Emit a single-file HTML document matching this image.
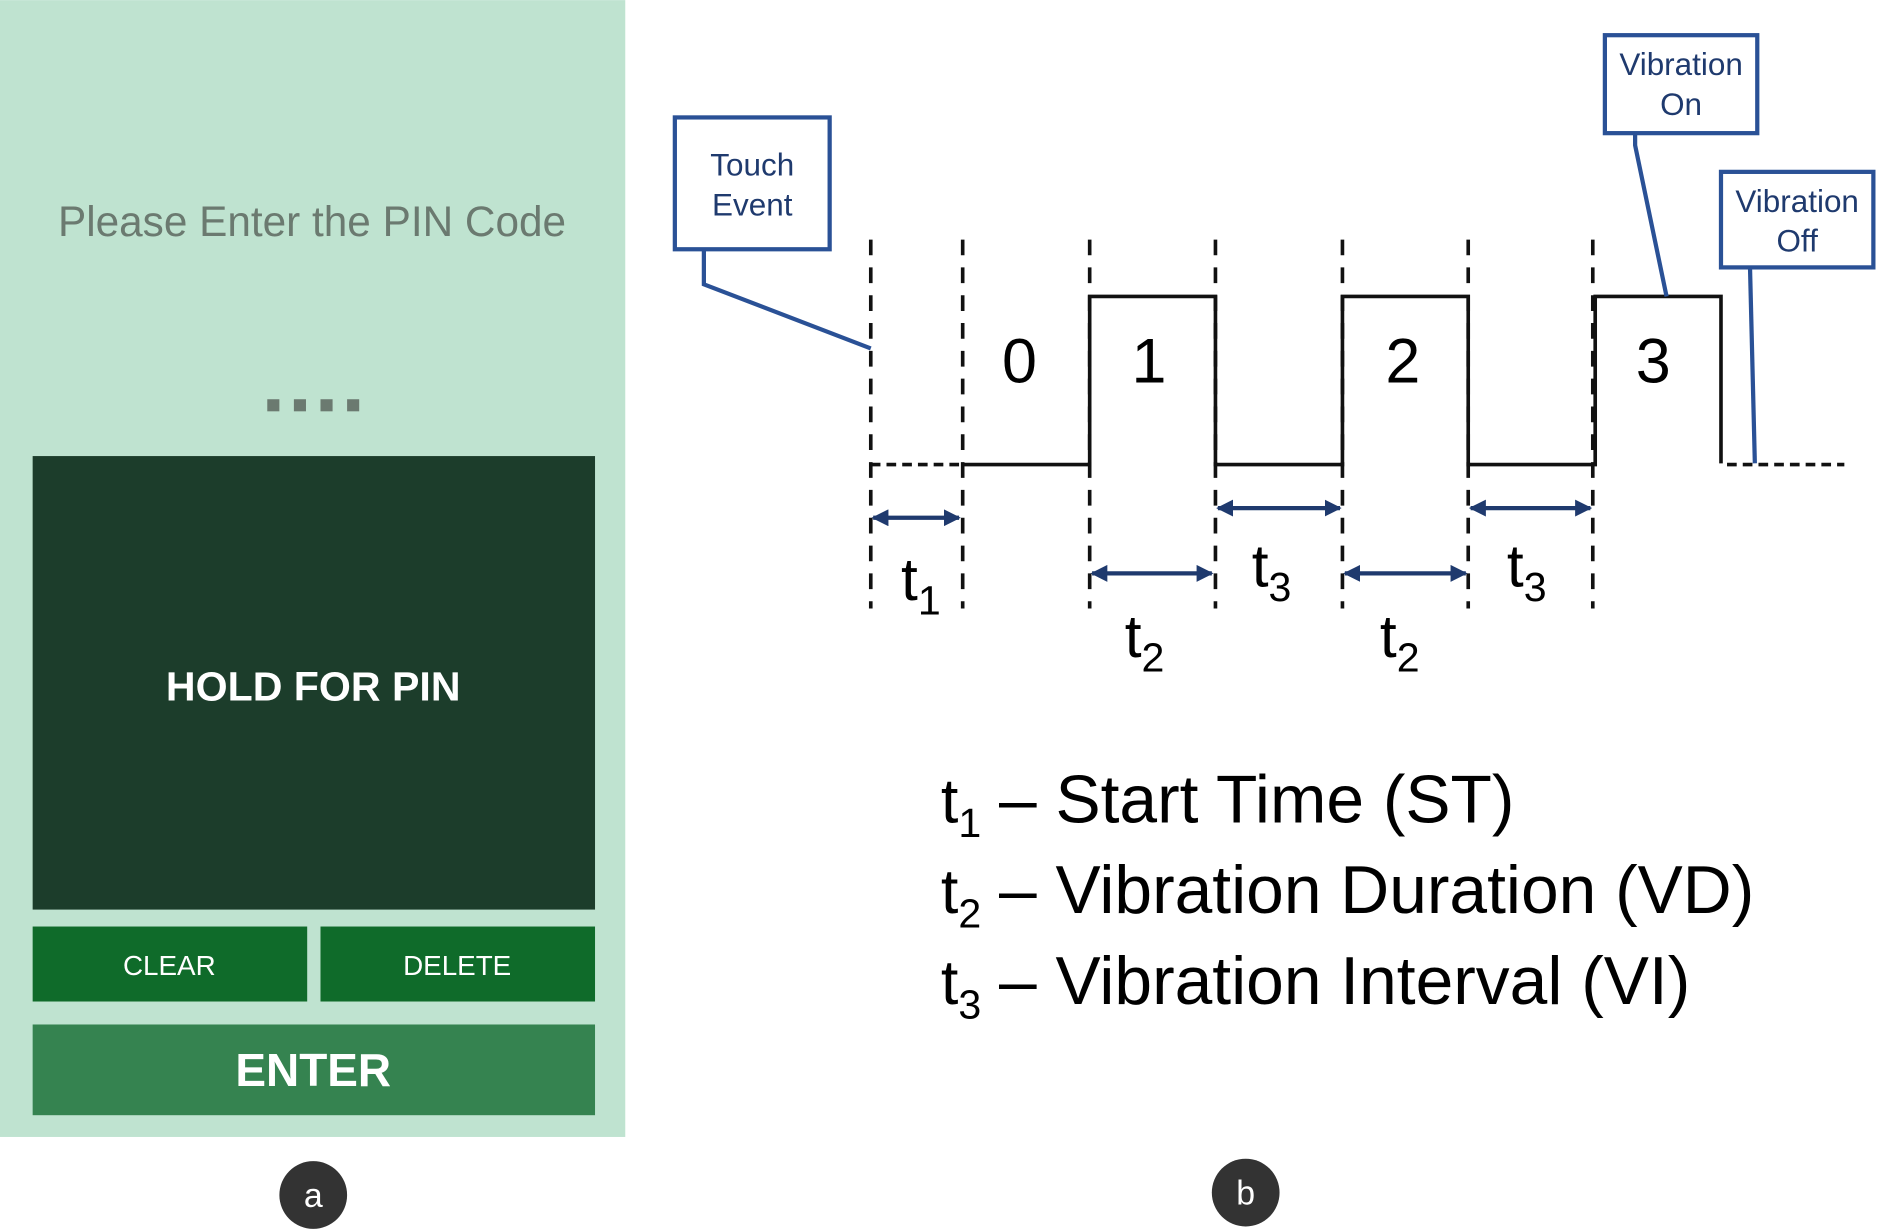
<!DOCTYPE html>
<html><head><meta charset="utf-8"><style>html,body{margin:0;padding:0;background:#fff}svg{display:block}</style></head>
<body>
<svg width="1877" height="1229" viewBox="0 0 1552 1016" xmlns="http://www.w3.org/2000/svg" font-family="Liberation Sans, sans-serif">
<defs>
<marker id="a" viewBox="0 0 10 10" refX="9" refY="5" markerWidth="4" markerHeight="4" orient="auto-start-reverse"><path d="M0,0L10,5L0,10z" fill="#1f3a6e"/></marker>
</defs>
<rect x="0" y="0" width="517" height="940" fill="#bfe3d0"/>
<text x="258" y="195" font-size="35" fill="#6b7a70" text-anchor="middle">Please Enter the PIN Code</text>
<g fill="#6b7a70"><rect x="221" y="330" width="10" height="10"/><rect x="243" y="330" width="10" height="10"/><rect x="265" y="330" width="10" height="10"/><rect x="287" y="330" width="10" height="10"/></g>
<rect x="27" y="377" width="465" height="375" fill="#1c3d2b"/>
<text x="259" y="579" font-size="34" font-weight="bold" fill="#fff" text-anchor="middle">HOLD FOR PIN</text>
<rect x="27" y="766" width="227" height="62" fill="#0f6b2a"/>
<rect x="265" y="766" width="227" height="62" fill="#0f6b2a"/>
<text x="140" y="806" font-size="23" fill="#fff" text-anchor="middle">CLEAR</text>
<text x="378" y="806" font-size="23" fill="#fff" text-anchor="middle">DELETE</text>
<rect x="27" y="847" width="465" height="75" fill="#358350"/>
<text x="259" y="898" font-size="38" font-weight="bold" fill="#fff" text-anchor="middle">ENTER</text>
<circle cx="259" cy="988" r="28" fill="#333"/><text x="259" y="998" font-size="28" fill="#fff" text-anchor="middle">a</text>
<circle cx="1030" cy="986" r="28" fill="#333"/><text x="1030" y="996" font-size="28" fill="#fff" text-anchor="middle">b</text>

<g stroke="#111" stroke-width="3" stroke-dasharray="13 10">
<line x1="720" y1="198" x2="720" y2="503"/><line x1="796" y1="198" x2="796" y2="503"/>
<line x1="901" y1="198" x2="901" y2="503"/><line x1="1005" y1="198" x2="1005" y2="503"/>
<line x1="1110" y1="198" x2="1110" y2="503"/><line x1="1214" y1="198" x2="1214" y2="503"/>
<line x1="1317" y1="198" x2="1317" y2="503"/>
</g>
<g stroke="#111" stroke-width="3" stroke-dasharray="8 5">
<line x1="720" y1="384" x2="796" y2="384"/><line x1="1428" y1="384" x2="1525" y2="384"/>
</g>
<path d="M796,384H901V245H1005V384H1110V245H1214V384H1319V245H1423V383" fill="none" stroke="#111" stroke-width="3"/>
<g font-size="52" fill="#000" text-anchor="middle">
<text x="843" y="316">0</text><text x="950" y="316">1</text><text x="1160" y="316">2</text><text x="1367" y="316">3</text>
</g>
<g stroke="#1f3a6e" stroke-width="3.5" marker-start="url(#a)" marker-end="url(#a)">
<line x1="722" y1="428" x2="793" y2="428"/>
<line x1="903" y1="474" x2="1002" y2="474"/>
<line x1="1007" y1="420" x2="1108" y2="420"/>
<line x1="1112" y1="474" x2="1212" y2="474"/>
<line x1="1216" y1="420" x2="1315" y2="420"/>
</g>
<g font-size="50" fill="#000">
<text x="745" y="496">t<tspan font-size="34" dy="12">1</tspan></text>
<text x="930" y="543">t<tspan font-size="34" dy="12">2</tspan></text>
<text x="1035" y="485">t<tspan font-size="34" dy="12">3</tspan></text>
<text x="1141" y="543">t<tspan font-size="34" dy="12">2</tspan></text>
<text x="1246" y="485">t<tspan font-size="34" dy="12">3</tspan></text>
</g>
<g fill="none" stroke="#2a5196" stroke-width="3.5">
<rect x="558" y="97" width="128" height="109" fill="#fff"/>
<path d="M582,206V235L720,288"/>
<rect x="1327" y="29" width="126" height="81" fill="#fff"/>
<path d="M1352,110V120L1378,245"/>
<rect x="1423" y="142" width="126" height="79" fill="#fff"/>
<path d="M1447,221L1451,383"/>
</g>
<g font-size="26" fill="#1f3a6e" text-anchor="middle">
<text x="622" y="145">Touch</text><text x="622" y="178">Event</text>
<text x="1390" y="62">Vibration</text><text x="1390" y="95">On</text>
<text x="1486" y="175">Vibration</text><text x="1486" y="208">Off</text>
</g>
<g font-size="52" fill="#000">
<text x="778" y="680">t<tspan font-size="34" dy="12">1</tspan></text><text x="826" y="680" font-size="56">– Start Time (ST)</text>
<text x="778" y="755">t<tspan font-size="34" dy="12">2</tspan></text><text x="826" y="755" font-size="56">– Vibration Duration (VD)</text>
<text x="778" y="830">t<tspan font-size="34" dy="12">3</tspan></text><text x="826" y="830" font-size="56">– Vibration Interval  (VI)</text>
</g>
</svg>
</body></html>
